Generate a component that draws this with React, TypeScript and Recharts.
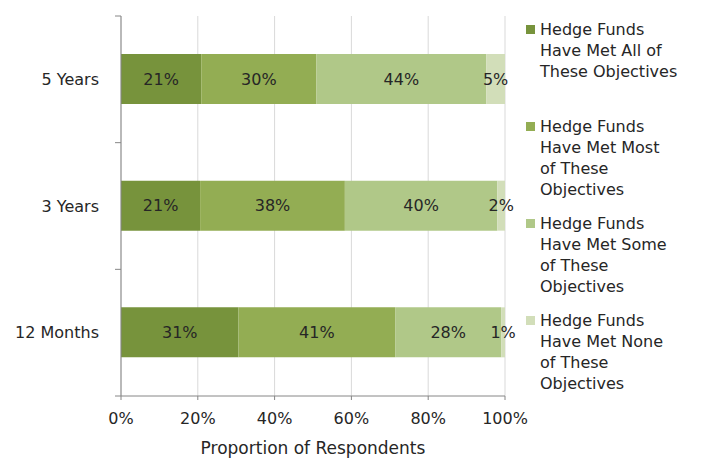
import React from 'react';
import { BarChart, Bar, XAxis, YAxis, CartesianGrid, LabelList } from 'recharts';

const categories = ['5 Years', '3 Years', '12 Months'];
const metAll = [20.9, 20.6, 30.6];
const metMost = [30.0, 37.7, 40.8];
const metSome = [44.2, 39.7, 27.6];
const metNone = [4.9, 2.0, 1.0];
const xTicks = [0, 20, 40, 60, 80, 100];
const seriesNames = [
  'Hedge Funds Have Met All of These Objectives',
  'Hedge Funds Have Met Most of These Objectives',
  'Hedge Funds Have Met Some of These Objectives',
  'Hedge Funds Have Met None of These Objectives',
];
const legendLines = [
  ['Hedge Funds', 'Have Met All of', 'These Objectives'],
  ['Hedge Funds', 'Have Met Most', 'of These', 'Objectives'],
  ['Hedge Funds', 'Have Met Some', 'of These', 'Objectives'],
  ['Hedge Funds', 'Have Met None', 'of These', 'Objectives'],
];
const colors = ['#77933C', '#93AD53', '#B0C888', '#D2DEB9'];
const keys = ['all', 'most', 'some', 'none'];

const data = categories.map((c, i) => ({
  name: c,
  all: metAll[i],
  most: metMost[i],
  some: metSome[i],
  none: metNone[i],
}));

const FONT = '"DejaVu Sans", sans-serif';
const TEXT = '#262626';
const AXIS = '#868686';
const TICK_SIZE = 6;
const TICK_MARGIN = 16;

const LegendBox = () => (
  <div
    style={{
      position: 'absolute',
      left: 520,
      top: 0,
      width: 184,
      height: 400,
      fontFamily: FONT,
      fontSize: 16,
      color: TEXT,
    }}
  >
    {legendLines.map((lines, i) => (
      <div key={i} title={seriesNames[i]} style={{ position: 'absolute', top: 19 + 97 * i, left: 0, lineHeight: '21px' }}>
        <span
          style={{
            position: 'absolute',
            left: 6,
            top: 6,
            width: 9,
            height: 9,
            background: colors[i],
          }}
        />
        <div style={{ marginLeft: 20, whiteSpace: 'nowrap' }}>
          {lines.map((l, j) => (
            <div key={j}>{l}</div>
          ))}
        </div>
      </div>
    ))}
  </div>
);

// Category tick: label at band centre, tick marks at band boundaries (Excel style)
const CategoryTick = (props: any) => {
  const { x, y, payload, index, visibleTicksCount } = props;
  const axisX = x + TICK_SIZE + TICK_MARGIN;
  const half = payload && typeof payload.offset === 'number' && payload.offset > 0 ? payload.offset : 63.33;
  const last = index === (visibleTicksCount ?? categories.length) - 1;
  return (
    <g>
      <line x1={axisX - TICK_SIZE} x2={axisX} y1={y - half} y2={y - half} stroke={AXIS} />
      {last && <line x1={axisX - TICK_SIZE} x2={axisX} y1={y + half} y2={y + half} stroke={AXIS} />}
      <text x={x} y={y} dy="0.355em" textAnchor="end" fill={TEXT} fontSize={16} fontFamily={FONT}>
        {payload.value}
      </text>
    </g>
  );
};

export default function App() {
  return (
    <div style={{ position: 'fixed', left: 0, top: 0, width: 704, height: 459, background: '#fff' }}>
      <BarChart
        width={704}
        height={459}
        data={data}
        layout="vertical"
        margin={{ top: 16, right: 199, bottom: 0, left: 0 }}
        style={{ fontFamily: FONT }}
      >
        <CartesianGrid horizontal={false} vertical stroke="#d9d9d9" />
        <YAxis
          type="category"
          dataKey="name"
          width={121}
          axisLine={{ stroke: AXIS }}
          tickLine={false}
          tickSize={TICK_SIZE}
          tickMargin={TICK_MARGIN}
          tick={CategoryTick}
        />
        <XAxis
          type="number"
          domain={[0, 100]}
          ticks={xTicks}
          tickFormatter={(v: number) => `${v}%`}
          height={63}
          tickSize={4}
          tickMargin={13}
          axisLine={{ stroke: AXIS }}
          tickLine={{ stroke: AXIS }}
          tick={{ fill: TEXT, fontSize: 16 }}
          label={{ value: 'Proportion of Respondents', position: 'insideBottom', offset: 5, fill: TEXT, fontSize: 17 }}
        />
        {keys.map((k, i) => (
          <Bar key={k} dataKey={k} name={seriesNames[i]} stackId="a" fill={colors[i]} barSize={50} isAnimationActive={false}>
            <LabelList
              dataKey={k}
              position="center"
              formatter={(v: number) => `${Math.round(v)}%`}
              fill={TEXT}
              fontSize={16}
              fontFamily={FONT}
            />
          </Bar>
        ))}
      </BarChart>
      <LegendBox />
    </div>
  );
}
